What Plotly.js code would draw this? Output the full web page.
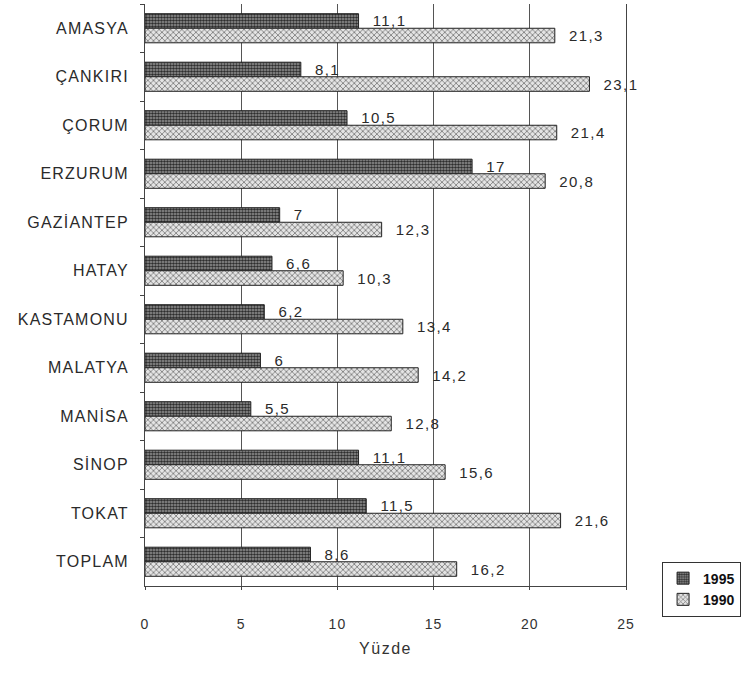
<!DOCTYPE html>
<html>
<head>
<meta charset="utf-8">
<script src="https://cdn.plot.ly/plotly-3.0.1.min.js"></script>
<style>
  html, body { margin: 0; padding: 0; background: #fff; }
  #chart { width: 745px; height: 675px; }
  .ytick text { letter-spacing: 1.2px; }
  .xtick text { letter-spacing: 1px; }
  .bartext { letter-spacing: 1.4px; }
  .g-xtitle text { letter-spacing: 1.5px; }
</style>
</head>
<body>
<div id="chart"></div>
<script>
const categories = ["AMASYA", "ÇANKIRI", "ÇORUM", "ERZURUM", "GAZİANTEP", "HATAY",
  "KASTAMONU", "MALATYA", "MANİSA", "SİNOP", "TOKAT", "TOPLAM"];
const values1995 = [11.1, 8.1, 10.5, 17, 7, 6.6, 6.2, 6, 5.5, 11.1, 11.5, 8.6];
const values1990 = [21.3, 23.1, 21.4, 20.8, 12.3, 10.3, 13.4, 14.2, 12.8, 15.6, 21.6, 16.2];
const seriesNames = ["1995", "1990"];
const xTicks = [0, 5, 10, 15, 20, 25];
const xTitle = "Yüzde";

const fmt = v => "  " + String(v).replace(".", ",");

const font = "Liberation Sans, Arial, sans-serif";

const traces = [
  {
    type: "bar", orientation: "h", name: seriesNames[0],
    y: categories, x: values1995,
    text: values1995.map(fmt), textposition: "outside", cliponaxis: false,
    constraintext: "none",
    textfont: { family: font, size: 15, color: "#2a2a2a" },
    marker: {
      color: "#666",
      line: { color: "#222", width: 1 },
      pattern: { shape: ".", size: 3, solidity: 0.6, fgcolor: "#2e2e2e", bgcolor: "#9a9a9a", fillmode: "replace" }
    },
    hoverinfo: "none"
  },
  {
    type: "bar", orientation: "h", name: seriesNames[1],
    y: categories, x: values1990,
    text: values1990.map(fmt), textposition: "outside", cliponaxis: false,
    constraintext: "none",
    textfont: { family: font, size: 15, color: "#2a2a2a" },
    marker: {
      color: "#bbb",
      line: { color: "#222", width: 1 },
      pattern: { shape: "x", size: 4, solidity: 0.35, fgcolor: "#707070", bgcolor: "#e4e4e4", fillmode: "replace" }
    },
    hoverinfo: "none"
  }
];

const layout = {
  width: 745, height: 675,
  margin: { l: 145, r: 103, t: 4, b: 89 },
  paper_bgcolor: "#fff", plot_bgcolor: "#fff",
  barmode: "group", bargap: 0.4, bargroupgap: 0,
  showlegend: true,
  legend: {
    x: 1.075, xanchor: "left", y: 0.042, yanchor: "top",
    bordercolor: "#333", borderwidth: 1, bgcolor: "#fff",
    font: { family: font, size: 14, color: "#111", weight: "bold" },
    itemwidth: 30, tracegroupgap: 0, traceorder: "normal"
  },
  xaxis: {
    range: [0, 25], tickvals: xTicks, ticktext: xTicks.map(String),
    showgrid: true, gridcolor: "#555", gridwidth: 1,
    zeroline: false, showline: true, linecolor: "#444", linewidth: 1,
    ticks: "outside", ticklen: 3, tickcolor: "#444",
    ticklabelstandoff: 22,
    tickfont: { family: font, size: 14, color: "#333" },
    title: { text: xTitle, font: { family: font, size: 16, color: "#333" }, standoff: 12 },
    fixedrange: true
  },
  yaxis: {
    type: "category", autorange: "reversed",
    showgrid: false, zeroline: false,
    showline: true, mirror: true, linecolor: "#444", linewidth: 1,
    ticks: "outside", ticklen: 4, tickcolor: "#444", tickson: "boundaries",
    ticklabelstandoff: 12,
    tickfont: { family: font, size: 16, color: "#2a2a2a" },
    fixedrange: true
  }
};

Plotly.newPlot("chart", traces, layout, { staticPlot: true, displayModeBar: false });
</script>
</body>
</html>
